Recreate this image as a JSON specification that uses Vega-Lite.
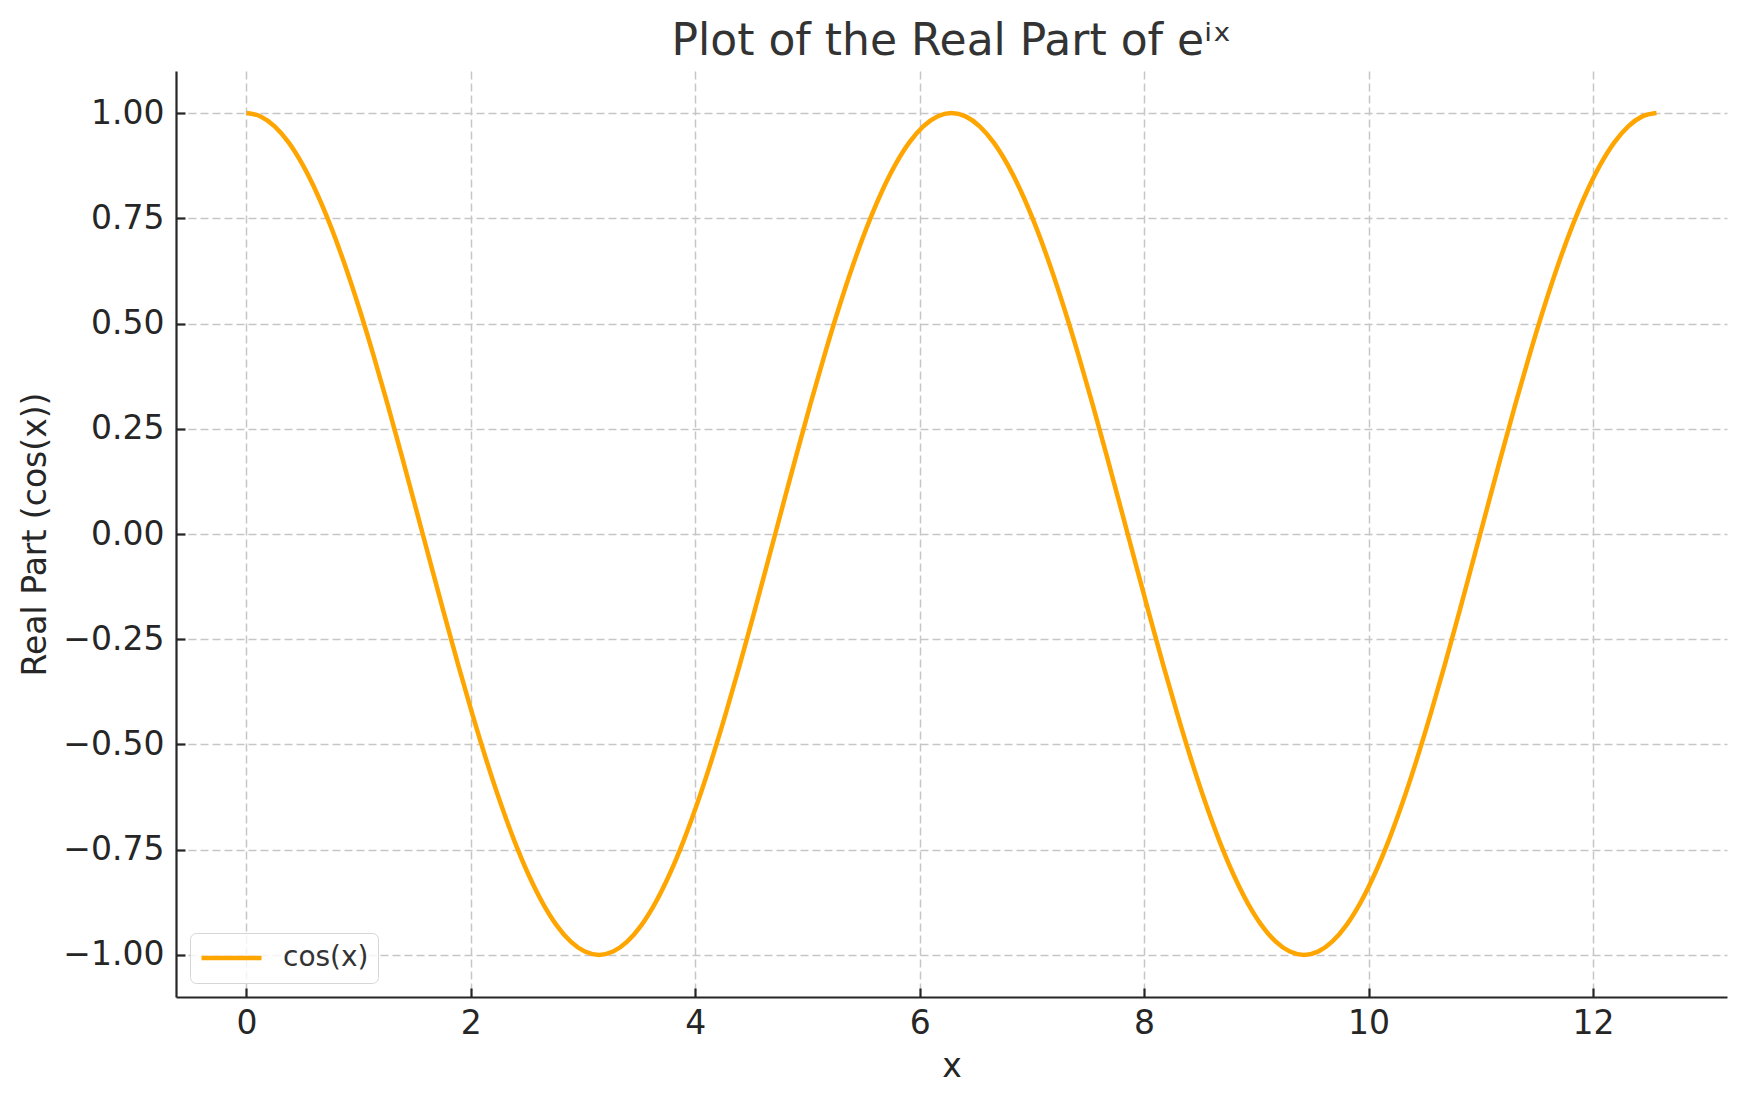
{
  "$schema": "https://vega.github.io/schema/vega-lite/v6.json",
  "width": 1551,
  "height": 926,
  "autosize": {"type": "none"},
  "padding": {"left": 176, "top": 71, "right": 19, "bottom": 106},
  "background": "white",
  "title": {
    "text": "Plot of the Real Part of eⁱˣ",
    "font": "DejaVu Sans",
    "fontSize": 44,
    "fontWeight": "normal",
    "color": "#333333",
    "baseline": "alphabetic",
    "offset": -28,
    "anchor": "middle"
  },
  "config": {
    "view": {"stroke": null},
    "font": "DejaVu Sans",
    "axis": {
      "labelFont": "DejaVu Sans",
      "titleFont": "DejaVu Sans",
      "labelFontSize": 33,
      "titleFontSize": 33,
      "titleFontWeight": "normal",
      "labelColor": "#262626",
      "titleColor": "#262626",
      "domainColor": "#262626",
      "domainWidth": 2.2,
      "tickColor": "#262626",
      "tickWidth": 2.2,
      "tickSize": -9,
      "gridColor": "#c6c6c6",
      "gridWidth": 1.5,
      "gridDash": [8, 4]
    },
    "legend": {
      "labelFont": "DejaVu Sans",
      "labelFontSize": 28,
      "labelColor": "#333333"
    }
  },
  "data": {
    "values": [
      {"x": 0, "y": 1, "series": "cos(x)"},
      {"x": 0.1257, "y": 0.99211, "series": "cos(x)"},
      {"x": 0.2513, "y": 0.96858, "series": "cos(x)"},
      {"x": 0.377, "y": 0.92978, "series": "cos(x)"},
      {"x": 0.5027, "y": 0.87631, "series": "cos(x)"},
      {"x": 0.6283, "y": 0.80902, "series": "cos(x)"},
      {"x": 0.754, "y": 0.72897, "series": "cos(x)"},
      {"x": 0.8796, "y": 0.63742, "series": "cos(x)"},
      {"x": 1.0053, "y": 0.53583, "series": "cos(x)"},
      {"x": 1.131, "y": 0.42578, "series": "cos(x)"},
      {"x": 1.2566, "y": 0.30902, "series": "cos(x)"},
      {"x": 1.3823, "y": 0.18738, "series": "cos(x)"},
      {"x": 1.508, "y": 0.06279, "series": "cos(x)"},
      {"x": 1.6336, "y": -0.06279, "series": "cos(x)"},
      {"x": 1.7593, "y": -0.18738, "series": "cos(x)"},
      {"x": 1.885, "y": -0.30902, "series": "cos(x)"},
      {"x": 2.0106, "y": -0.42578, "series": "cos(x)"},
      {"x": 2.1363, "y": -0.53583, "series": "cos(x)"},
      {"x": 2.2619, "y": -0.63742, "series": "cos(x)"},
      {"x": 2.3876, "y": -0.72897, "series": "cos(x)"},
      {"x": 2.5133, "y": -0.80902, "series": "cos(x)"},
      {"x": 2.6389, "y": -0.87631, "series": "cos(x)"},
      {"x": 2.7646, "y": -0.92978, "series": "cos(x)"},
      {"x": 2.8903, "y": -0.96858, "series": "cos(x)"},
      {"x": 3.0159, "y": -0.99211, "series": "cos(x)"},
      {"x": 3.1416, "y": -1, "series": "cos(x)"},
      {"x": 3.2673, "y": -0.99211, "series": "cos(x)"},
      {"x": 3.3929, "y": -0.96858, "series": "cos(x)"},
      {"x": 3.5186, "y": -0.92978, "series": "cos(x)"},
      {"x": 3.6442, "y": -0.87631, "series": "cos(x)"},
      {"x": 3.7699, "y": -0.80902, "series": "cos(x)"},
      {"x": 3.8956, "y": -0.72897, "series": "cos(x)"},
      {"x": 4.0212, "y": -0.63742, "series": "cos(x)"},
      {"x": 4.1469, "y": -0.53583, "series": "cos(x)"},
      {"x": 4.2726, "y": -0.42578, "series": "cos(x)"},
      {"x": 4.3982, "y": -0.30902, "series": "cos(x)"},
      {"x": 4.5239, "y": -0.18738, "series": "cos(x)"},
      {"x": 4.6496, "y": -0.06279, "series": "cos(x)"},
      {"x": 4.7752, "y": 0.06279, "series": "cos(x)"},
      {"x": 4.9009, "y": 0.18738, "series": "cos(x)"},
      {"x": 5.0265, "y": 0.30902, "series": "cos(x)"},
      {"x": 5.1522, "y": 0.42578, "series": "cos(x)"},
      {"x": 5.2779, "y": 0.53583, "series": "cos(x)"},
      {"x": 5.4035, "y": 0.63742, "series": "cos(x)"},
      {"x": 5.5292, "y": 0.72897, "series": "cos(x)"},
      {"x": 5.6549, "y": 0.80902, "series": "cos(x)"},
      {"x": 5.7805, "y": 0.87631, "series": "cos(x)"},
      {"x": 5.9062, "y": 0.92978, "series": "cos(x)"},
      {"x": 6.0319, "y": 0.96858, "series": "cos(x)"},
      {"x": 6.1575, "y": 0.99211, "series": "cos(x)"},
      {"x": 6.2832, "y": 1, "series": "cos(x)"},
      {"x": 6.4088, "y": 0.99211, "series": "cos(x)"},
      {"x": 6.5345, "y": 0.96858, "series": "cos(x)"},
      {"x": 6.6602, "y": 0.92978, "series": "cos(x)"},
      {"x": 6.7858, "y": 0.87631, "series": "cos(x)"},
      {"x": 6.9115, "y": 0.80902, "series": "cos(x)"},
      {"x": 7.0372, "y": 0.72897, "series": "cos(x)"},
      {"x": 7.1628, "y": 0.63742, "series": "cos(x)"},
      {"x": 7.2885, "y": 0.53583, "series": "cos(x)"},
      {"x": 7.4142, "y": 0.42578, "series": "cos(x)"},
      {"x": 7.5398, "y": 0.30902, "series": "cos(x)"},
      {"x": 7.6655, "y": 0.18738, "series": "cos(x)"},
      {"x": 7.7911, "y": 0.06279, "series": "cos(x)"},
      {"x": 7.9168, "y": -0.06279, "series": "cos(x)"},
      {"x": 8.0425, "y": -0.18738, "series": "cos(x)"},
      {"x": 8.1681, "y": -0.30902, "series": "cos(x)"},
      {"x": 8.2938, "y": -0.42578, "series": "cos(x)"},
      {"x": 8.4195, "y": -0.53583, "series": "cos(x)"},
      {"x": 8.5451, "y": -0.63742, "series": "cos(x)"},
      {"x": 8.6708, "y": -0.72897, "series": "cos(x)"},
      {"x": 8.7965, "y": -0.80902, "series": "cos(x)"},
      {"x": 8.9221, "y": -0.87631, "series": "cos(x)"},
      {"x": 9.0478, "y": -0.92978, "series": "cos(x)"},
      {"x": 9.1735, "y": -0.96858, "series": "cos(x)"},
      {"x": 9.2991, "y": -0.99211, "series": "cos(x)"},
      {"x": 9.4248, "y": -1, "series": "cos(x)"},
      {"x": 9.5504, "y": -0.99211, "series": "cos(x)"},
      {"x": 9.6761, "y": -0.96858, "series": "cos(x)"},
      {"x": 9.8018, "y": -0.92978, "series": "cos(x)"},
      {"x": 9.9274, "y": -0.87631, "series": "cos(x)"},
      {"x": 10.0531, "y": -0.80902, "series": "cos(x)"},
      {"x": 10.1788, "y": -0.72897, "series": "cos(x)"},
      {"x": 10.3044, "y": -0.63742, "series": "cos(x)"},
      {"x": 10.4301, "y": -0.53583, "series": "cos(x)"},
      {"x": 10.5558, "y": -0.42578, "series": "cos(x)"},
      {"x": 10.6814, "y": -0.30902, "series": "cos(x)"},
      {"x": 10.8071, "y": -0.18738, "series": "cos(x)"},
      {"x": 10.9327, "y": -0.06279, "series": "cos(x)"},
      {"x": 11.0584, "y": 0.06279, "series": "cos(x)"},
      {"x": 11.1841, "y": 0.18738, "series": "cos(x)"},
      {"x": 11.3097, "y": 0.30902, "series": "cos(x)"},
      {"x": 11.4354, "y": 0.42578, "series": "cos(x)"},
      {"x": 11.5611, "y": 0.53583, "series": "cos(x)"},
      {"x": 11.6867, "y": 0.63742, "series": "cos(x)"},
      {"x": 11.8124, "y": 0.72897, "series": "cos(x)"},
      {"x": 11.9381, "y": 0.80902, "series": "cos(x)"},
      {"x": 12.0637, "y": 0.87631, "series": "cos(x)"},
      {"x": 12.1894, "y": 0.92978, "series": "cos(x)"},
      {"x": 12.315, "y": 0.96858, "series": "cos(x)"},
      {"x": 12.4407, "y": 0.99211, "series": "cos(x)"},
      {"x": 12.5664, "y": 1, "series": "cos(x)"}
    ]
  },
  "mark": {"type": "line", "strokeWidth": 4.5, "interpolate": "monotone"},
  "encoding": {
    "x": {
      "field": "x",
      "type": "quantitative",
      "scale": {"domain": [-0.628, 13.195], "nice": false, "zero": false},
      "axis": {
        "title": "x",
        "values": [0, 2, 4, 6, 8, 10, 12],
        "labelPadding": 19,
        "titlePadding": 10,
        "grid": true
      }
    },
    "y": {
      "field": "y",
      "type": "quantitative",
      "scale": {"domain": [-1.1, 1.1], "nice": false, "zero": false},
      "axis": {
        "title": "Real Part (cos(x))",
        "values": [-1, -0.75, -0.5, -0.25, 0, 0.25, 0.5, 0.75, 1],
        "format": ".2f",
        "labelPadding": 21,
        "titlePadding": 10,
        "grid": true
      }
    },
    "color": {
      "field": "series",
      "type": "nominal",
      "scale": {"range": ["#FFA500"]},
      "legend": {
        "title": null,
        "orient": "bottom-left",
        "offset": 14,
        "symbolType": "stroke",
        "symbolSize": 3600,
        "symbolStrokeWidth": 4.5,
        "labelOffset": 19,
        "padding": 9,
        "clipHeight": 32,
        "strokeColor": "#d6d6d6",
        "fillColor": "rgba(255,255,255,0.8)",
        "cornerRadius": 6
      }
    }
  }
}
